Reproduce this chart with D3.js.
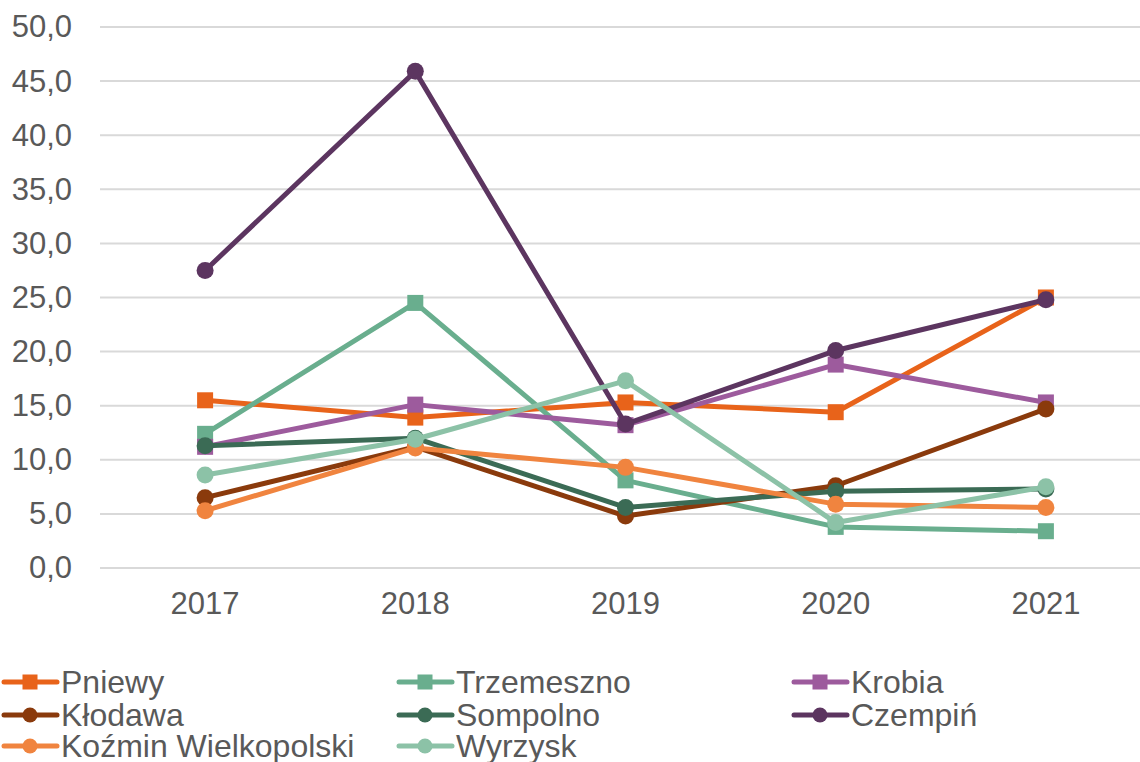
<!DOCTYPE html>
<html><head><meta charset="utf-8">
<script src="https://cdn.jsdelivr.net/npm/d3@7"></script>
<style>body{margin:0;background:#fff}svg{display:block}</style>
</head><body>
<script>
const years = ["2017","2018","2019","2020","2021"];
const seriesNames = ["Pniewy","Trzemeszno","Krobia","Kłodawa","Sompolno","Czempiń","Koźmin Wielkopolski","Wyrzysk"];
const pniewy = [15.5,13.9,15.3,14.4,25.0];
const trzemeszno = [12.4,24.5,8.1,3.8,3.4];
const krobia = [11.2,15.1,13.2,18.8,15.3];
const klodawa = [6.5,11.2,4.8,7.6,14.7];
const sompolno = [11.3,12.0,5.6,7.1,7.3];
const czempin = [27.5,45.9,13.3,20.1,24.8];
const kozmin = [5.3,11.1,9.3,5.9,5.6];
const wyrzysk = [8.6,11.9,17.3,4.2,7.5];
const yTicks = [0,5,10,15,20,25,30,35,40,45,50];
const colors = ["#E8631A","#69AE8E","#9D5B9D","#8A3A0C","#3B6B55","#5C3560","#F0843F","#8CC2A7"];
const markers = ["square","square","square","circle","circle","circle","circle","circle"];
const values = [pniewy,trzemeszno,krobia,klodawa,sompolno,czempin,kozmin,wyrzysk];

const W=1140,H=762;
const svg=d3.select("body").append("svg").attr("width",W).attr("height",H);
const font="'Liberation Sans', Arial, sans-serif";
const x=d3.scaleBand().domain(years).range([100,1151]);
const y=d3.scaleLinear().domain([0,50]).range([568,27]);

svg.append("g").selectAll("line").data(yTicks).join("line")
 .attr("x1",100).attr("x2",1140).attr("y1",d=>y(d)).attr("y2",d=>y(d))
 .attr("stroke","#d9d9d9").attr("stroke-width",2);

const yAxis=svg.append("g").attr("transform","translate(100,0)")
 .call(d3.axisLeft(y).tickValues(yTicks).tickSize(0).tickPadding(28).tickFormat(d=>d3.format(".1f")(d).replace(".",",")));
yAxis.select(".domain").remove();
yAxis.selectAll("text").attr("font-family",font).attr("font-size",31).attr("fill","#595959");

const xAxis=svg.append("g").attr("transform","translate(0,568)")
 .call(d3.axisBottom(x).tickSize(0).tickPadding(24));
xAxis.select(".domain").remove();
xAxis.selectAll("text").attr("font-family",font).attr("font-size",31).attr("fill","#595959");

const cx=d=>x(d)+x.bandwidth()/2;
const line=d3.line().x((d,i)=>cx(years[i])).y(d=>y(d));

function drawMarker(g,type,px,py,color,size){
  if(type==="square") g.append("rect").attr("x",px-size/2).attr("y",py-size/2).attr("width",size).attr("height",size).attr("fill",color);
  else g.append("circle").attr("cx",px).attr("cy",py).attr("r",size/2).attr("fill",color);
}

values.forEach((vals,si)=>{
  const g=svg.append("g");
  g.append("path").datum(vals).attr("d",line).attr("fill","none").attr("stroke",colors[si]).attr("stroke-width",5).attr("stroke-linejoin","round").attr("stroke-linecap","round");
  vals.forEach((v,i)=>drawMarker(g,markers[si],cx(years[i]),y(v),colors[si],markers[si]==="square"?16:17));
});

const colX=[2,397,792], rowY=[682,715,746];
seriesNames.forEach((name,i)=>{
  const c=i%3, r=Math.floor(i/3);
  const g=svg.append("g").attr("transform",`translate(${colX[c]},${rowY[r]})`);
  g.append("line").attr("x1",2).attr("x2",55).attr("y1",0).attr("y2",0).attr("stroke",colors[i]).attr("stroke-width",5).attr("stroke-linecap","round");
  drawMarker(g,markers[i],28,0,colors[i],15);
  g.append("text").attr("x",59).attr("y",0).attr("dy","0.35em").attr("font-family",font).attr("font-size",32).attr("fill","#595959").text(name);
});
</script>
</body></html>
